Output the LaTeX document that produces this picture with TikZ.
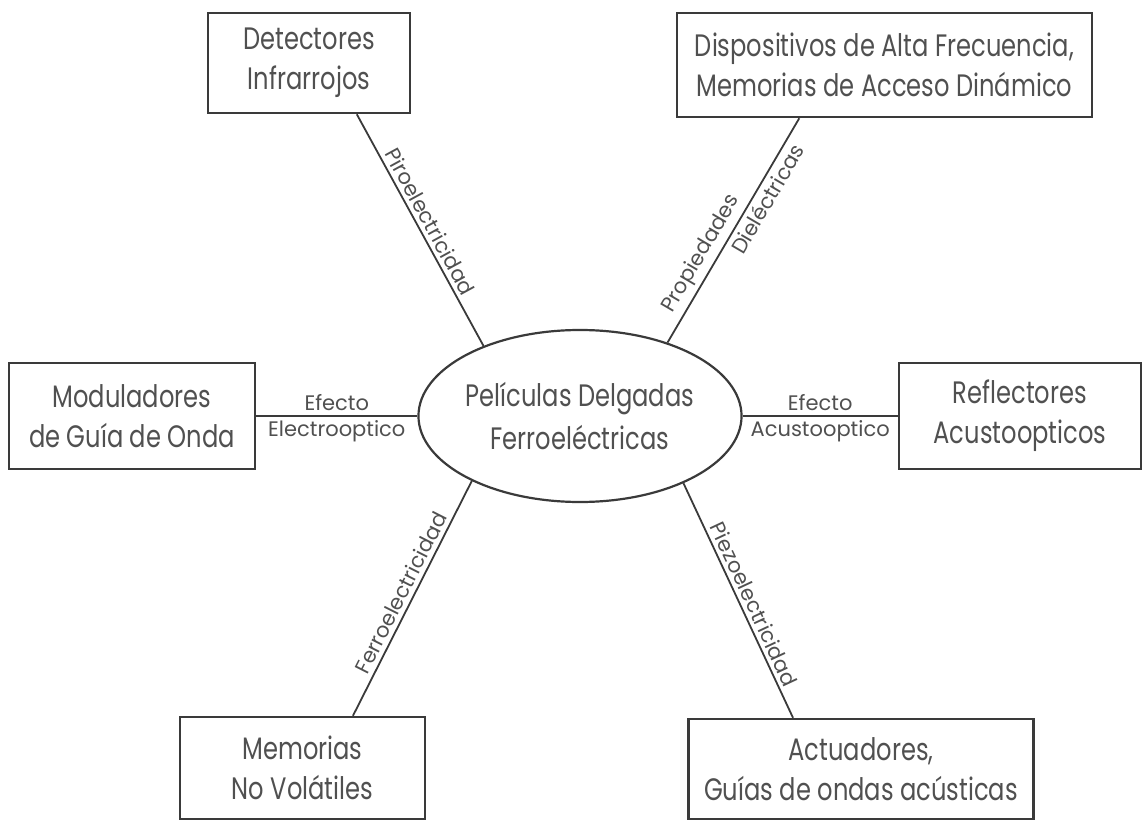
\documentclass[tikz,border=0pt]{standalone}
\usepackage{fontspec}
\setmainfont{Poppins}
\newfontfamily\boxfont{Poppins}[FakeStretch=0.78]
\newfontfamily\tagfont{Poppins}
\usepackage{xcolor}
\usetikzlibrary{shapes.geometric,positioning}

\definecolor{txtgray}{HTML}{505050}
\definecolor{lngray}{HTML}{3A3A3A}

\tikzset{
  appbox/.style={draw=lngray, line width=2.5pt, rectangle, align=center, text=txtgray,
    inner sep=0pt, font=\boxfont\fontsize{31}{40}\selectfont},
  core/.style={draw=lngray, line width=2.2pt, ellipse, align=center, text=txtgray,
    inner sep=0pt, font=\boxfont\fontsize{31}{43}\selectfont},
  link/.style={draw=lngray, line width=1.8pt},
  tag/.style={text=txtgray, inner sep=4pt, font=\tagfont\fontsize{21}{24}\selectfont}
}

\begin{document}
\begin{tikzpicture}[x=1pt, y=-1pt]
    \useasboundingbox (0,0) rectangle (1144,821);

    % Central node
    \node[core, minimum width=296, minimum height=172] (pel) at (580,416) {Películas Delgadas\\Ferroeléctricas};

    % Applications
    \node[appbox, minimum width=202, minimum height=100] (det) at (309,63) {Detectores\\Infrarrojos};
    \node[appbox, minimum width=415, minimum height=104] (disp) at (884.5,65) {Dispositivos de Alta Frecuencia,\\Memorias de Acceso Dinámico};
    \node[appbox, minimum width=246, minimum height=106] (mod) at (132,416) {Moduladores\\de Guía de Onda};
    \node[appbox, minimum width=242, minimum height=106] (refl) at (1020,416) {Reflectores\\Acustoopticos};
    \node[appbox, minimum width=245, minimum height=102] (mem) at (302.5,768) {Memorias\\No Volátiles};
    \node[appbox, minimum width=345, minimum height=100] (act) at (861,769) {Actuadores,\\Guías de ondas acústicas};

    % Properties on the connectors
    \draw[link] (det.-47) -- node[tag, sloped, above, pos=0.49] {Piroelectricidad} (pel.144);
    \draw[link] (pel.40) -- node[tag, sloped, above, pos=0.36] {Propiedades}
        node[tag, sloped, below, pos=0.67] {Dieléctricas} (disp.212);
    \draw[link] (mod.east) -- node[tag, above] {Efecto} node[tag, below] {Electrooptico} (pel.west);
    \draw[link] (pel.east) -- node[tag, above] {Efecto} node[tag, below] {Acustooptico} (refl.west);
    \draw[link] (mem.46) -- node[tag, sloped, above, pos=0.5] {Ferroelectricidad} (pel.211);
    \draw[link] (pel.-33) -- node[tag, sloped, above, pos=0.54] {Piezoelectricidad} (act.143);
\end{tikzpicture}
\end{document}
